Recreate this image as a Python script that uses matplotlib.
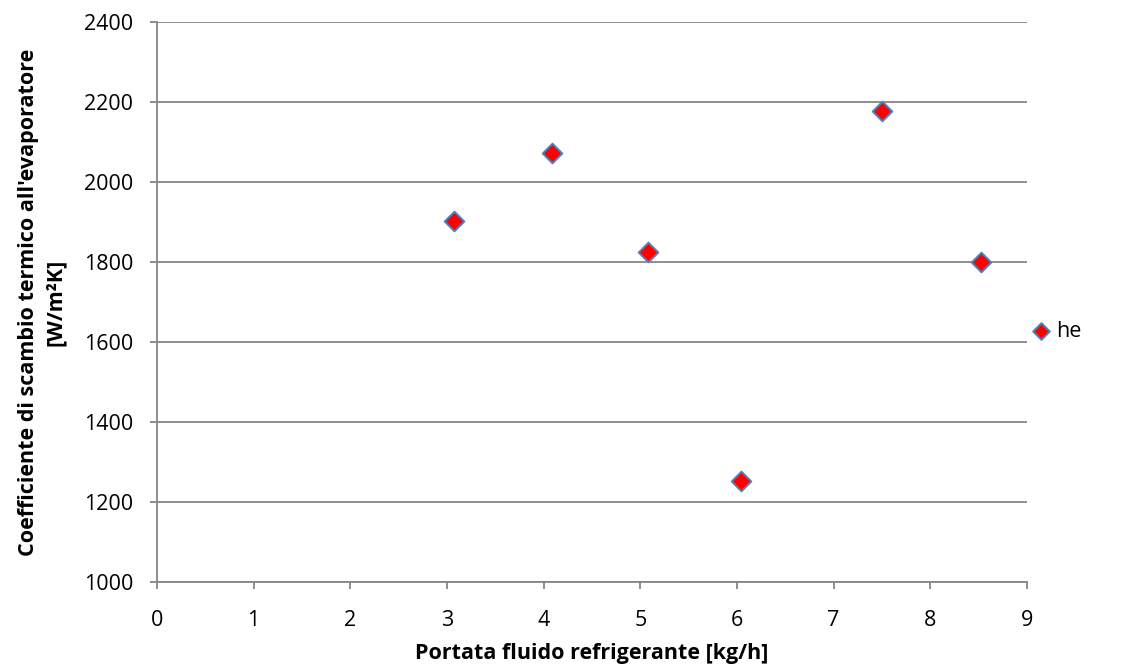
import matplotlib
matplotlib.use("Agg")
import matplotlib.pyplot as plt

portata = [3.07, 4.09, 5.08, 6.04, 7.50, 8.52]
he = [1902, 2072, 1825, 1252, 2178, 1801]
series_name = "he"
x_ticks = [0, 1, 2, 3, 4, 5, 6, 7, 8, 9]
y_ticks = [1000, 1200, 1400, 1600, 1800, 2000, 2200, 2400]

plt.rcParams['font.family'] = ['Open Sans', 'DejaVu Sans']
grey = '#868686'
fs = 15.5

fig = plt.figure(figsize=(11.45, 6.70), dpi=100)
ax = fig.add_axes([157/1145, 1 - 582/670, (1027-157)/1145, (582-22)/670])

ax.scatter(portata, he, marker='D', s=100, facecolor='#FF0000', edgecolor='#4F81BD',
           linewidth=1.4, zorder=3, label=series_name)

ax.set_xlim(0, 9)
ax.set_ylim(1000, 2400)
ax.set_xticks(x_ticks)
ax.set_yticks(y_ticks)
ax.yaxis.grid(True, color=grey, linewidth=1.3)
ax.set_axisbelow(True)
for s in ['top', 'right']:
    ax.spines[s].set_visible(False)
for s in ['left', 'bottom']:
    ax.spines[s].set_color(grey)
    ax.spines[s].set_linewidth(1.3)
ax.tick_params(axis='both', colors=grey, length=5, width=1.3, labelsize=fs,
               labelcolor='black')
ax.tick_params(axis='x', pad=15)
ax.tick_params(axis='y', pad=12)

ax.set_xlabel("Portata fluido refrigerante [kg/h]", fontsize=fs, fontweight='bold', labelpad=9)
ax.set_ylabel("Coefficiente di scambio termico all'evaporatore\n[W/m²K]", fontsize=fs,
              fontweight='bold', labelpad=13, linespacing=1.4)

ax.legend(loc='center left', bbox_to_anchor=(0.9815, 0.448), frameon=False, fontsize=fs,
          handlelength=1.0, handletextpad=0.2, markerscale=0.85, borderpad=0.4)

fig.savefig("out.png", dpi=100)
